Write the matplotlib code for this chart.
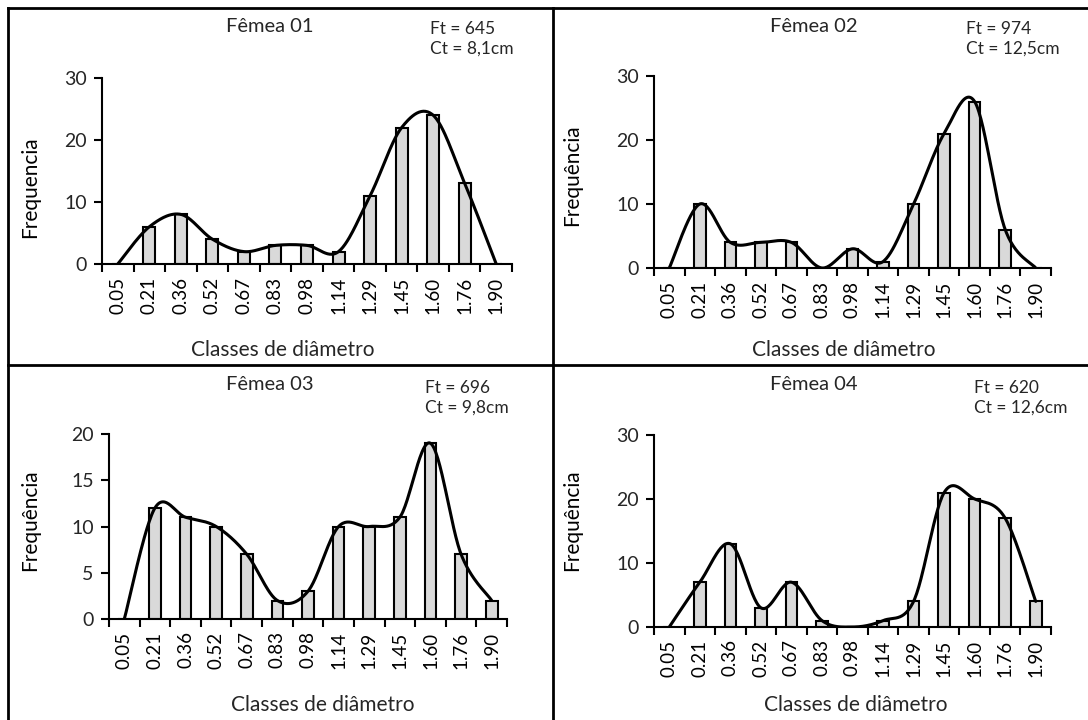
import numpy as np
import matplotlib
matplotlib.use("Agg")
import matplotlib.pyplot as plt
from matplotlib.lines import Line2D

plt.rcParams['font.family'] = ['Lato', 'DejaVu Sans']

classes = ["0.05", "0.21", "0.36", "0.52", "0.67", "0.83", "0.98",
           "1.14", "1.29", "1.45", "1.60", "1.76", "1.90"]

femea01 = [0, 6, 8, 4, 2, 3, 3, 2, 11, 22, 24, 13, 0]
femea02 = [0, 10, 4, 4, 4, 0, 3, 1, 10, 21, 26, 6, 0]
femea03 = [0, 12, 11, 10, 7, 2, 3, 10, 10, 11, 19, 7, 2]
femea04 = [0, 7, 13, 3, 7, 1, 0, 1, 4, 21, 20, 17, 4]

titles = ["Fêmea 01", "Fêmea 02", "Fêmea 03", "Fêmea 04"]
ylabels = ["Frequencia", "Frequência", "Frequência", "Frequência"]
notes = ["Ft = 645\nCt = 8,1cm", "Ft = 974\nCt = 12,5cm",
         "Ft = 696\nCt = 9,8cm", "Ft = 620\nCt = 12,6cm"]
ymax = [30, 30, 20, 30]
ystep = [10, 10, 5, 10]

W, H = 1088, 720


def smooth(y, n=30):
    # excel-like smoothed line (catmull-rom as bezier)
    x = np.arange(len(y), dtype=float)
    y = np.asarray(y, dtype=float)
    pts = np.column_stack([x, y])
    out = []
    for i in range(len(pts) - 1):
        p0 = pts[max(i - 1, 0)]
        p1 = pts[i]
        p2 = pts[i + 1]
        p3 = pts[min(i + 2, len(pts) - 1)]
        c1 = p1 + (p2 - p0) / 6
        c2 = p2 - (p3 - p1) / 6
        t = np.linspace(0, 1, n)[:, None]
        seg = ((1 - t) ** 3 * p1 + 3 * (1 - t) ** 2 * t * c1
               + 3 * (1 - t) * t ** 2 * c2 + t ** 3 * p2)
        out.append(seg if i == 0 else seg[1:])
    out = np.vstack(out)
    return out[:, 0], out[:, 1]


def px(x0, y0, x1, y1):
    return [x0 / W, 1 - y1 / H, (x1 - x0) / W, (y1 - y0) / H]


fig = plt.figure(figsize=(W / 100, H / 100), dpi=100)

# axes boxes in pixels: left, top, right, bottom(zero line)
boxes = [(102, 78, 512, 264), (654, 76, 1051, 268),
         (109, 434, 507, 619), (654, 435, 1051, 627)]
title_pos = [(270, 26), (814, 26), (270, 385), (814, 385)]
note_pos = [(430, 21), (966, 21), (425, 380), (974, 380)]
ylab_pos = [(30, 187), (572, 175), (30, 520), (572, 520)]
xlab_pos = [(283, 350), (844, 350), (323, 705), (856, 705)]

series = [femea01, femea02, femea03, femea04]

for k, vals in enumerate(series):
    l, t, r, b = boxes[k]
    ax = fig.add_axes(px(l, t, r, b))
    x = np.arange(len(classes))
    ax.bar(x, vals, width=0.38, color="#d9d9d9", edgecolor="black",
           linewidth=1.5, zorder=2)
    sx, sy = smooth(vals)
    ax.plot(sx, sy, color="black", linewidth=2.2, zorder=3,
            solid_capstyle="round")
    ax.set_xlim(-0.5, len(classes) - 0.5)
    ax.set_ylim(0, ymax[k])
    ax.set_yticks(np.arange(0, ymax[k] + 1, ystep[k]))
    ax.set_xticks(x)
    ax.set_xticklabels(classes, rotation=90, fontsize=13.5)
    ax.set_xticks(np.arange(-0.5, len(classes), 1.0), minor=True)
    ax.tick_params(axis="x", which="major", length=0, pad=9)
    ax.tick_params(axis="x", which="minor", length=6, width=1.5,
                   direction="out")
    ax.tick_params(axis="y", length=6, width=1.5, labelsize=14,
                   pad=5, labelcolor="#262626")
    for s in ["top", "right"]:
        ax.spines[s].set_visible(False)
    ax.spines["left"].set_linewidth(1.5)
    ax.spines["bottom"].set_linewidth(1.5)
    ax.spines["bottom"].set_zorder(4)
    ax.set_facecolor("none")

    fig.text(title_pos[k][0] / W, 1 - title_pos[k][1] / H, titles[k],
             ha="center", va="center", fontsize=14.5, color="#262626")
    fig.text(note_pos[k][0] / W, 1 - note_pos[k][1] / H, notes[k],
             ha="left", va="top", fontsize=12.5, linespacing=1.25,
             color="#262626")
    fig.text(ylab_pos[k][0] / W, 1 - ylab_pos[k][1] / H, ylabels[k],
             ha="center", va="center", rotation=90, fontsize=15)
    fig.text(xlab_pos[k][0] / W, 1 - xlab_pos[k][1] / H,
             "Classes de diâmetro", ha="center", va="center", fontsize=15,
             color="#262626")

# panel frame lines
frame = [((8, 8), (8, 720)), ((8, 1088), (8, 8)),
         ((553, 553), (8, 720)), ((8, 1088), (365, 365))]
for xs, ys in frame:
    fig.add_artist(Line2D([v / W for v in xs], [1 - v / H for v in ys],
                          color="black", linewidth=2.0))

fig.savefig("out.png", dpi=100)
